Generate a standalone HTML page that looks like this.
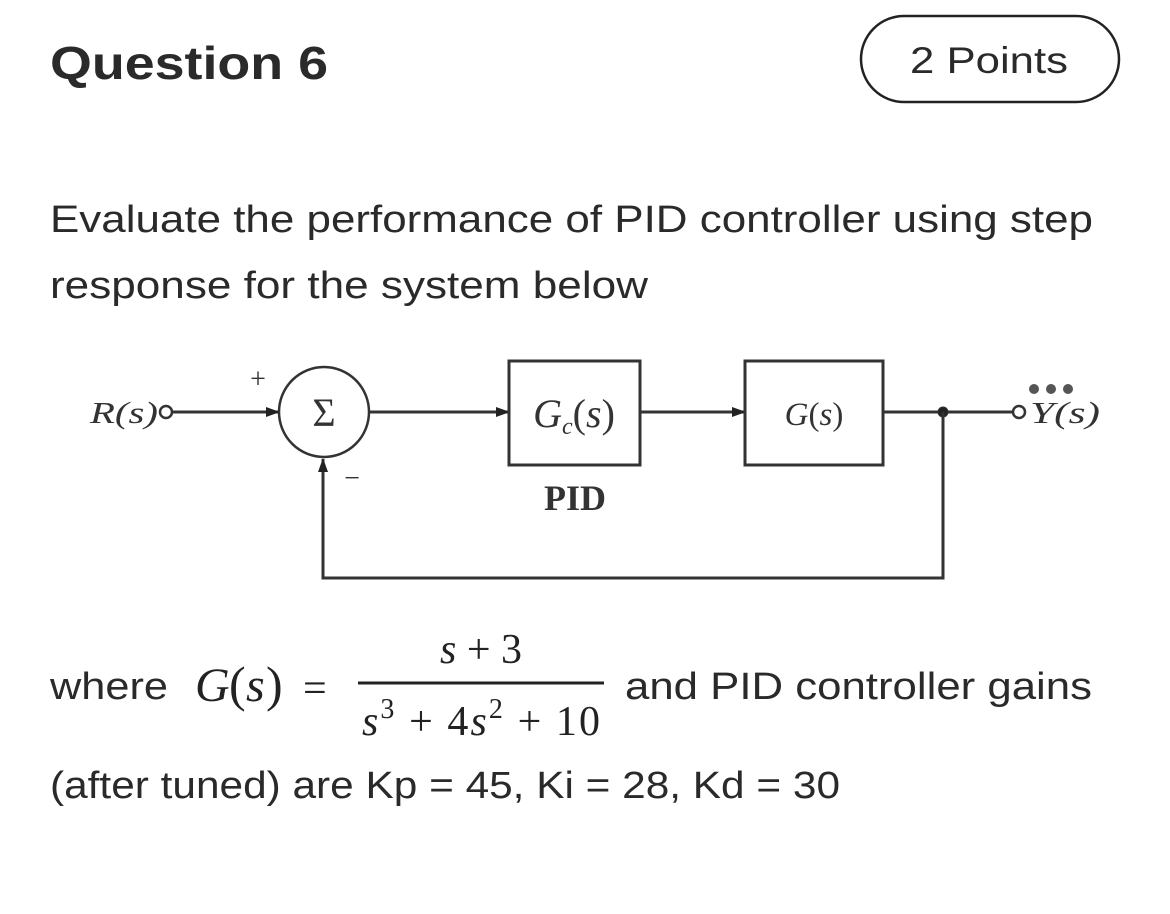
<!DOCTYPE html>
<html><head><meta charset="utf-8"><style>
html,body{margin:0;padding:0;background:#fff;width:1170px;height:914px;overflow:hidden}
</style></head><body>
<svg width="1170" height="914" viewBox="0 0 1170 914" xmlns="http://www.w3.org/2000/svg">
<defs><marker id="a" markerWidth="14" markerHeight="12" refX="13" refY="6" orient="auto" markerUnits="userSpaceOnUse"><path d="M0,1 L14,6 L0,11 z" fill="#222"/></marker></defs>
<g font-family="'Liberation Sans', sans-serif" fill="#2a2a2a">
<text x="50" y="79" font-size="46" font-weight="600" textLength="278" lengthAdjust="spacingAndGlyphs">Question 6</text>
<rect x="861" y="16" width="258" height="86" rx="43" fill="none" stroke="#222" stroke-width="2.5"/>
<text x="910" y="73" font-size="37" textLength="158" lengthAdjust="spacingAndGlyphs">2 Points</text>
<text x="50" y="232" font-size="38" textLength="1043" lengthAdjust="spacingAndGlyphs">Evaluate the performance of PID controller using step</text>
<text x="50" y="298" font-size="38" textLength="598" lengthAdjust="spacingAndGlyphs">response for the system below</text>
<text x="50" y="699" font-size="38" textLength="118" lengthAdjust="spacingAndGlyphs">where</text>
<text x="625" y="699" font-size="38" textLength="467" lengthAdjust="spacingAndGlyphs">and PID controller gains</text>
<text x="50" y="798" font-size="38" textLength="790" lengthAdjust="spacingAndGlyphs">(after tuned) are Kp = 45, Ki = 28, Kd = 30</text>
</g>
<g font-family="'Liberation Serif', serif" fill="#222">
<text x="195" y="701" font-size="48" font-style="italic">G</text>
<text x="229" y="701" font-size="50">(</text>
<text x="246" y="701" font-size="48" font-style="italic">s</text>
<text x="266" y="701" font-size="50">)</text>
<text x="303" y="702" font-size="42">=</text>
<line x1="358" y1="683" x2="604" y2="683" stroke="#222" stroke-width="3"/>
<text x="481" y="663" font-size="42" text-anchor="middle"><tspan font-style="italic">s</tspan> + 3</text>
<text x="362" y="735" font-size="42" textLength="238" lengthAdjust="spacing"><tspan font-style="italic">s</tspan><tspan font-size="28" dy="-17">3</tspan><tspan dy="17"> + 4</tspan><tspan font-style="italic">s</tspan><tspan font-size="28" dy="-17">2</tspan><tspan dy="17"> + 10</tspan></text>
</g>
<g font-family="'Liberation Serif', serif" fill="#333" stroke="#333">
<text x="90" y="423" font-size="31" font-style="italic" stroke="none" textLength="68" lengthAdjust="spacingAndGlyphs">R(s)</text>
<circle cx="166" cy="412" r="6" fill="none" stroke-width="2.5"/>
<line x1="172" y1="412" x2="279" y2="412" stroke-width="3" marker-end="url(#a)"/>
<text x="258" y="388" font-size="28" stroke="none" text-anchor="middle">+</text>
<circle cx="324" cy="412" r="45" fill="none" stroke-width="2.5"/>
<text x="324" y="426" font-size="40" stroke="none" text-anchor="middle">Σ</text>
<text x="352" y="487" font-size="28" stroke="none" text-anchor="middle">−</text>
<line x1="369" y1="412" x2="509" y2="412" stroke-width="3" marker-end="url(#a)"/>
<rect x="509" y="361" width="131" height="104" fill="none" stroke-width="3"/>
<text x="574" y="427" font-size="40" font-style="italic" stroke="none" text-anchor="middle">G<tspan font-size="24" dy="7">c</tspan><tspan dy="-7" font-style="normal">(</tspan>s<tspan font-style="normal">)</tspan></text>
<text x="575" y="510" font-size="36" font-weight="bold" stroke="none" text-anchor="middle">PID</text>
<line x1="640" y1="412" x2="745" y2="412" stroke-width="3" marker-end="url(#a)"/>
<rect x="745" y="361" width="138" height="104" fill="none" stroke-width="3"/>
<text x="814" y="425" font-size="33" font-style="italic" stroke="none" text-anchor="middle">G<tspan font-style="normal">(</tspan>s<tspan font-style="normal">)</tspan></text>
<line x1="883" y1="412" x2="1013" y2="412" stroke-width="3"/>
<circle cx="943" cy="412" r="5" fill="#222"/>
<circle cx="1019" cy="412" r="6" fill="none" stroke-width="2.5"/>
<text x="1030" y="423" font-size="31" font-style="italic" stroke="none" textLength="70" lengthAdjust="spacingAndGlyphs">Y(s)</text>
<circle cx="1034" cy="389" r="5" fill="#555" stroke="none"/>
<circle cx="1051" cy="389" r="5" fill="#555" stroke="none"/>
<circle cx="1068" cy="389" r="5" fill="#555" stroke="none"/>
<polyline points="943,412 943,578 323,578 323,459" fill="none" stroke-width="3" marker-end="url(#a)"/>
</g>
</svg>
</body></html>
